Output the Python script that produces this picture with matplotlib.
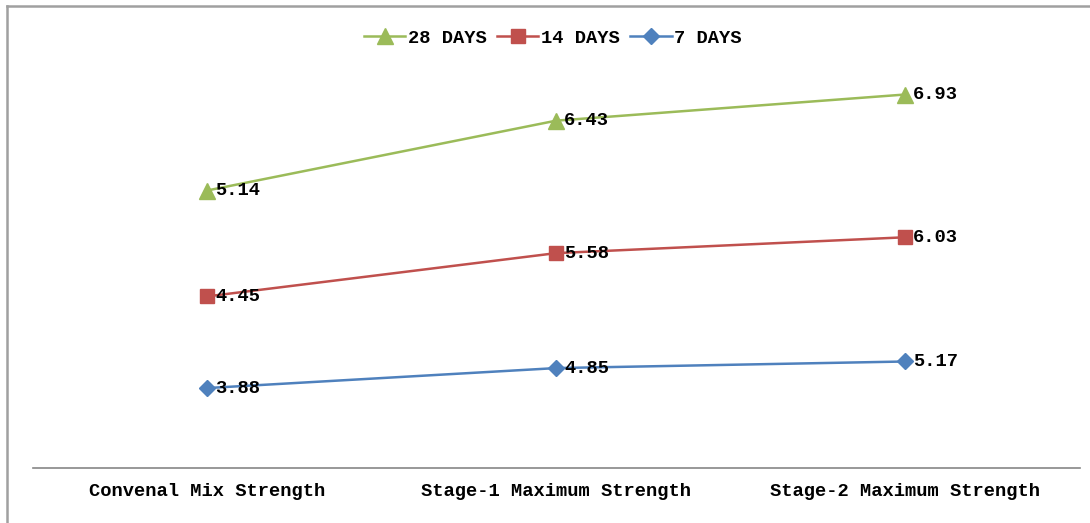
import matplotlib.pyplot as plt
from matplotlib.lines import Line2D
import numpy as np

categories = ["Convenal Mix Strength", "Stage-1 Maximum Strength", "Stage-2 Maximum Strength"]
days_7 = [3.88, 4.85, 5.17]
days_14 = [4.45, 5.58, 6.03]
days_28 = [5.14, 6.43, 6.93]

# stacked line chart: each series sits on top of the previous ones
series = [
    ("7 DAYS", days_7, "#4F81BD", "D", 8.5),
    ("14 DAYS", days_14, "#C0504D", "s", 10.5),
    ("28 DAYS", days_28, "#9BBB59", "^", 11),
]

font = dict(family=["Liberation Mono", "DejaVu Sans Mono"], weight="bold", size=13.5)

fig = plt.figure(figsize=(10.9, 5.23), dpi=100)
ax = fig.add_axes([32.5 / 1090, 55 / 523, 1047 / 1090, 412 / 523])

x = np.arange(len(categories))
base = np.zeros(len(categories))
handles = {}
for name, vals, color, marker, ms in series:
    top = base + np.array(vals)
    h, = ax.plot(x, top, color=color, lw=1.8, marker=marker, ms=ms,
                 markeredgecolor=color, label=name, zorder=2)
    handles[name] = h
    for xi, yi, v in zip(x, top, vals):
        ax.annotate(f"{v:.2f}", (xi, yi), xytext=(6, 0), textcoords="offset points",
                    ha="left", va="center", color="black", zorder=3, **font)
    base = top

ax.set_xlim(-0.5, 2.5)
ax.set_ylim(0, 20)
ax.set_xticks(x)
ax.set_xticklabels(categories, **font)
ax.tick_params(axis="x", length=0, pad=11)
ax.set_yticks([])
for side in ["left", "right", "top"]:
    ax.spines[side].set_visible(False)
ax.spines["bottom"].set_color("#868686")
ax.spines["bottom"].set_linewidth(1.2)

order = ["28 DAYS", "14 DAYS", "7 DAYS"]
fig.legend([handles[n] for n in order], order, loc="center", ncol=3,
           bbox_to_anchor=(553 / 1090, 1 - 38 / 523), frameon=False,
           handlelength=2.2, handletextpad=0.15, columnspacing=0.55,
           prop=dict(family="Liberation Mono", weight="bold", size=13.5))

# chart frame (left and top edges only, as in the original)
fig.add_artist(Line2D([7 / 1090, 7 / 1090], [0, 1 - 6 / 523], color="#A0A0A0", lw=1.8))
fig.add_artist(Line2D([7 / 1090, 1], [1 - 6 / 523, 1 - 6 / 523], color="#A0A0A0", lw=1.8))

fig.savefig("out.png", dpi=100)
